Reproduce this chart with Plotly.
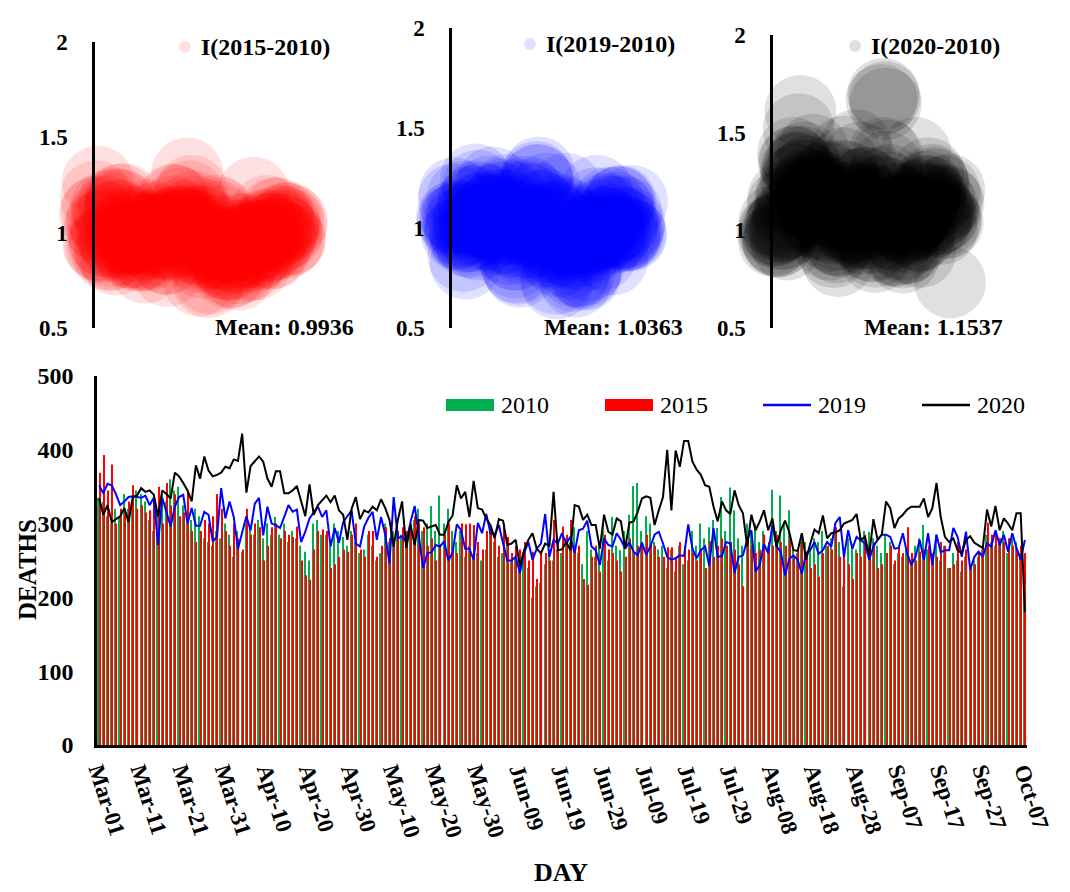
import plotly.graph_objects as go
import pandas as pd
import numpy as np

days = list(pd.date_range("2020-03-01", "2020-10-07").strftime("%b-%d"))

deaths_2010 = [335,330,310,300,320,310,340,320,330,345,340,330,305,290,315,340,330,360,345,350,325,300,
               305,320,310,280,275,270,290,280,300,285,255,290,262,300,295,285,305,280,300,285,
               309,285,300,275,290,280,270,262,250,300,305,285,285,270,300,290,282,270,290,275,260,265,285,270,250,260,300,275,290,300,285,275,295,305,320,290,300,324,290,338,300,320,290,275,290,255,
               270,255,260,250,265,290,275,255,260,270,250,255,245,260,240,200,215,220,245,260,250,265,260,280,275,295,260,245,290,265,255,270,300,250,309,270,264,290,312,351,355,290,310,300,
               275,265,270,240,265,235,270,245,250,290,270,300,280,295,305,294,336,290,349,318,280,270,300,285,300,275,290,270,346,290,338,300,318,265,260,285,275,265,280,275,290,270,280,300,
               275,215,280,270,265,285,290,289,280,270,260,285,275,245,260,255,265,250,270,280,298,265,255,285,250,270,240,260,250,235,255,245,250,255,265,285,275,270,280,290,260,280,275,260,245]

deaths_2015 = [369,393,345,380,300,320,315,330,352,320,325,315,318,330,350,300,355,325,340,310,315,345,
               290,275,290,305,300,310,340,320,290,270,300,280,265,320,285,300,295,250,270,295,
               300,280,290,285,282,296,250,230,224,265,290,292,290,240,245,255,265,262,285,300,265,255,290,290,255,270,295,280,275,290,295,290,300,310,300,295,270,280,250,270,285,300,270,260,300,299,
               300,298,275,265,290,295,280,270,300,282,260,270,265,275,250,262,225,262,260,250,305,275,296,285,305,270,270,225,217,255,270,235,285,265,260,250,235,255,280,260,270,275,285,270,
               270,255,255,268,268,255,275,270,265,260,250,265,240,276,255,270,280,270,275,265,245,215,280,270,260,265,285,275,270,285,275,270,285,255,265,275,255,240,245,228,260,270,265,295,
               255,260,245,225,260,255,285,270,275,240,245,260,270,250,270,260,295,260,250,262,265,270,260,255,275,270,240,245,275,250,265,240,245,260,270,301,285,290,280,275,280,270,265,270,260]

deaths_2019 = [352,341,354,352,340,325,330,336,337,336,335,338,325,335,271,335,315,296,323,336,339,300,321,297,297,316,312,276,282,348,307,330,309,266,288,310,291,327,335,284,323,300,298,294,309,325,316,319,275,289,
               307,315,323,309,318,269,294,274,302,310,318,273,269,296,308,316,278,309,285,246,336,280,283,275,302,324,278,240,260,261,271,269,276,250,261,299,291,266,266,251,301,287,313,287,285,298,273,250,250,255,
               233,260,275,251,266,273,313,255,278,273,287,273,282,260,291,293,304,269,264,244,280,271,269,287,278,266,275,262,257,274,258,269,285,289,273,255,251,253,257,256,299,266,253,264,269,243,294,255,256,275,
               273,233,255,257,278,291,235,244,272,260,298,269,262,230,252,257,251,232,260,264,275,259,264,275,269,301,309,255,291,266,282,278,273,251,269,278,285,285,282,266,267,287,260,244,255,278,251,287,244,285,
               261,264,264,294,282,255,289,238,255,262,255,273,269,291,271,285,262,287,267,251,278]

deaths_2020 = [334,312,325,302,306,310,321,302,336,338,348,343,345,339,310,345,340,334,369,364,355,345,330,379,361,391,372,364,366,369,377,375,387,385,422,
               342,378,385,391,384,361,350,371,371,341,341,345,351,330,310,353,312,325,332,338,329,338,318,312,278,320,336,
               306,318,315,323,318,333,321,305,269,305,330,267,298,271,305,304,294,296,298,285,285,302,311,352,334,
               343,309,358,321,319,307,298,280,306,304,271,273,278,242,264,278,287,266,260,273,269,343,264,265,275,264,325,323,305,312,298,298,266,312,289,285,307,303,266,301,303,316,334,337,
               335,298,318,336,400,318,399,377,412,412,384,373,366,352,350,323,303,330,318,313,345,325,314,269,312,291,303,318,291,307,269,291,304,289,264,263,287,251,273,292,287,311,280,287,288,291,
               300,303,305,313,278,282,257,306,278,285,330,321,294,307,312,319,323,323,323,334,309,321,355,309,282,275,280,264,260,278,283,274,271,267,319,296,324,291,307,300,291,314,314,180]

index_labels = ["I(2015-2010)", "I(2019-2010)", "I(2020-2010)"]
mean_labels = ["Mean: 0.9936", "Mean: 1.0363", "Mean: 1.1537"]
y_ticks_top = [0.5, 1, 1.5, 2]
y_ticks_bottom = [0, 100, 200, 300, 400, 500]

W, H = 1070, 892
SERIF = "Liberation Serif"

def px(x):
    return x / W

def py(y):
    return (H - y) / H

fig = go.Figure()

base = np.array(deaths_2010, dtype=float)
ratios = [np.array(deaths_2015) / base, np.array(deaths_2019) / base, np.array(deaths_2020) / base]
bubble_cols = ["rgba(255,0,0,0.12)", "rgba(0,0,255,0.12)", "rgba(0,0,0,0.12)"]
xdoms = [[px(95), px(292)], [px(452), px(632)], [px(773), px(950)]]
ytops = [42, 28, 35]
day_idx = list(range(len(days)))

for i in range(3):
    xa = "x%d" % (i + 2)
    ya = "y%d" % (i + 2)
    fig.add_trace(go.Scatter(
        x=day_idx, y=ratios[i], mode="markers", xaxis=xa, yaxis=ya,
        marker=dict(size=72, color=bubble_cols[i], line=dict(width=0)),
        cliponaxis=False, showlegend=False, hoverinfo="skip"))
    fig.layout["xaxis%d" % (i + 2)] = dict(domain=xdoms[i], range=[0, 220], visible=False,
                                           anchor=ya, automargin=False)
    fig.layout["yaxis%d" % (i + 2)] = dict(
        domain=[py(328), py(ytops[i])], range=[0.5, 2], anchor=xa, automargin=False,
        tickvals=y_ticks_top, ticktext=["0.5", "1", "1.5", "2"],
        showline=True, linecolor="black", linewidth=2.5, showgrid=False, zeroline=False,
        ticks="outside", ticklen=20, tickcolor="rgba(0,0,0,0)",
        tickfont=dict(family=SERIF, size=23, color="black", weight="bold"))

fig.add_trace(go.Bar(x=days, y=deaths_2010, name="2010", marker=dict(color="#00B050", line=dict(width=0)),
                     showlegend=False))
fig.add_trace(go.Bar(x=days, y=deaths_2015, name="2015", marker=dict(color="#FF0000", line=dict(width=0)),
                     showlegend=False))
fig.add_trace(go.Scatter(x=days, y=deaths_2019, name="2019", mode="lines",
                         line=dict(color="#0000FF", width=2), showlegend=False))
fig.add_trace(go.Scatter(x=days, y=deaths_2020, name="2020", mode="lines",
                         line=dict(color="#000000", width=2), showlegend=False))

fig.update_layout(
    width=W, height=H, margin=dict(l=0, r=0, t=0, b=0),
    paper_bgcolor="white", plot_bgcolor="white",
    barmode="group", bargap=0.45, bargroupgap=0.0,
    xaxis=dict(domain=[px(97), px(1027)], type="category", tickmode="array", automargin=False,
               tickvals=days[::10], ticktext=days[::10], tickangle=72,
               tickfont=dict(family=SERIF, size=23, color="black", weight="bold"),
               showline=True, linecolor="black", linewidth=3, showgrid=False, ticks="",
               range=[-0.5, len(days) - 0.5]),
    yaxis=dict(domain=[py(745), py(376)], range=[0, 500], tickvals=y_ticks_bottom, automargin=False,
               showline=True, linecolor="black", linewidth=2.5, showgrid=False, zeroline=False,
               ticks="outside", ticklen=16, tickcolor="rgba(0,0,0,0)",
               tickfont=dict(family=SERIF, size=24, color="black", weight="bold")),
)

ann = []
shapes = []
leg_marker_x = [185, 530, 855]
leg_y = [47, 44, 46]
leg_fill = ["rgba(255,0,0,0.12)", "rgba(0,0,255,0.12)", "rgba(0,0,0,0.12)"]
mean_right = [356, 685, 1005]
for i in range(3):
    cx, cy = leg_marker_x[i], leg_y[i]
    shapes.append(dict(type="circle", xref="paper", yref="paper",
                       x0=px(cx - 6), x1=px(cx + 6), y0=py(cy + 6), y1=py(cy - 6),
                       fillcolor=leg_fill[i], line=dict(width=0)))
    ann.append(dict(text=index_labels[i], x=px(cx + 14), y=py(cy), xref="paper", yref="paper",
                    xanchor="left", yanchor="middle", showarrow=False,
                    font=dict(family=SERIF, size=24, color="black", weight="bold")))
    ann.append(dict(text=mean_labels[i], x=px(mean_right[i]), y=py(327), xref="paper", yref="paper",
                    xanchor="right", yanchor="middle", showarrow=False,
                    font=dict(family=SERIF, size=24, color="black", weight="bold")))

leg_items = [("2010", 446, "bar", "#00B050"), ("2015", 605, "bar", "#FF0000"),
             ("2019", 763, "line", "#0000FF"), ("2020", 922, "line", "#000000")]
ly = 405
for name, x0, kind, col in leg_items:
    if kind == "bar":
        shapes.append(dict(type="rect", xref="paper", yref="paper",
                           x0=px(x0), x1=px(x0 + 48), y0=py(ly + 6), y1=py(ly - 6),
                           fillcolor=col, line=dict(width=0)))
    else:
        shapes.append(dict(type="line", xref="paper", yref="paper",
                           x0=px(x0), x1=px(x0 + 48), y0=py(ly), y1=py(ly),
                           line=dict(color=col, width=2.5)))
    ann.append(dict(text=name, x=px(x0 + 53), y=py(ly), xref="paper", yref="paper",
                    xanchor="left", yanchor="middle", showarrow=False,
                    font=dict(family=SERIF, size=24, color="black")))

ann.append(dict(text="DEATHS", x=px(27), y=py(570), xref="paper", yref="paper", textangle=-90,
                xanchor="center", yanchor="middle", showarrow=False,
                font=dict(family=SERIF, size=25, color="black", weight="bold")))
ann.append(dict(text="DAY", x=px(561), y=py(872), xref="paper", yref="paper",
                xanchor="center", yanchor="middle", showarrow=False,
                font=dict(family=SERIF, size=26, color="black", weight="bold")))

fig.update_layout(annotations=ann, shapes=shapes)
fig.write_html("out.html", config={"displayModeBar": False},
               post_script="document.body.style.margin='0';document.body.style.padding='0';document.body.style.overflow='hidden';")
